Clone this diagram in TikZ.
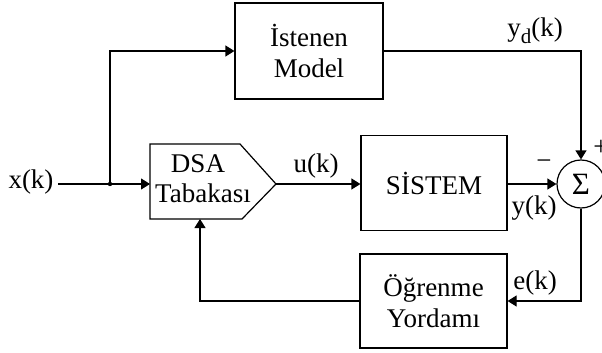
\documentclass[tikz,border=0pt]{standalone}
\usepackage{fontspec}
\setmainfont{Liberation Serif}
\usetikzlibrary{arrows.meta}
\begin{document}
\begin{tikzpicture}[x=1pt,y=-1pt,line width=1.2pt,
  txt/.style={font=\fontsize{27}{31}\selectfont},
  blk/.style={draw,txt,align=center,inner sep=0pt},
  sig/.style={-{Triangle[length=9pt,width=11pt]}},
  lbl/.style={txt,inner sep=0pt}]
\useasboundingbox (0,0) rectangle (602,353);

% blocks
\node[blk,minimum width=148pt,minimum height=96pt] (model) at (309,51) {İstenen\\Model};
\node[blk,minimum width=146pt,minimum height=95pt] (sys) at (434,183) {SİSTEM};
\node[blk,minimum width=147pt,minimum height=94pt] (learn) at (433.5,301) {Öğrenme\\Yordamı};
\node[draw,circle,minimum size=48pt,inner sep=0pt,font=\fontsize{31}{31}\selectfont] (sum) at (581,184) {Σ};

% DSA layer: arrow-shaped block
\coordinate (dsaW) at (150,184);
\coordinate (dsaE) at (276,184);
\coordinate (dsaS) at (200,219);
\draw (150,144) -- (240,144) -- (dsaE) -- (242,219) -- (150,219) -- cycle;
\node[lbl] (dsa1) at (198,164) {DSA};
\node[lbl] (dsa2) at (203,193) {Tabakası};

% signals
\node[lbl] (x) at (31,182) {x(k)};
\coordinate (j) at (110,184);
\draw ([xshift=4pt]x.east |- j) -- (j);
\draw[sig] (j) -- (dsaW);
\fill (j) circle (2.2pt);
\draw[sig] (j) |- (model.west);
\draw[sig] (model.east) -| (sum.north);
\draw[sig] (dsaE) -- (sys.west |- dsaE);
\draw[sig] (sys.east |- sum) -- (sum.west);
\draw[sig] (sum.south) |- (learn.east);
\draw[sig] (learn.west) -| (dsaS);

% labels
\node[lbl] (u) at (316,166) {u(k)};
\node[lbl] (yd) at (535,31) {y\raisebox{-7pt}{\fontsize{21}{21}\selectfont d}(k)};
\node[lbl] (y) at (534,208) {y(k)};
\node[lbl] (e) at (535,283) {e(k)};
\node[lbl] (minus) at (544,165) {−};
\node[lbl] (plus) at (601,148) {+};
\end{tikzpicture}
\end{document}
